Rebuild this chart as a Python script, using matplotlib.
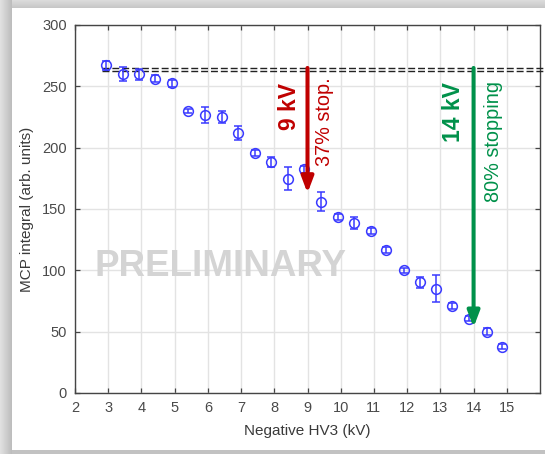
import numpy as np
import matplotlib
matplotlib.use("Agg")
import matplotlib.pyplot as plt
from matplotlib.patches import Rectangle

# Measured MCP integral vs. negative HV3 voltage
hv_kv = [2.92, 3.45, 3.92, 4.42, 4.93, 5.41, 5.92, 6.42, 6.91, 7.42, 7.90, 8.41, 8.88,
         9.42, 9.91, 10.39, 10.90, 11.37, 11.90, 12.39, 12.88, 13.36, 13.86, 14.39, 14.87]
mcp_integral = [267.0, 259.8, 259.8, 256.2, 252.4, 229.9, 226.3, 225.2, 212.0, 195.6, 188.3, 174.7, 182.3,
                156.0, 143.5, 138.6, 132.0, 116.6, 100.0, 90.2, 84.8, 70.9, 60.6, 50.0, 37.7]
mcp_err = [4.0, 5.6, 4.5, 3.0, 3.0, 2.0, 6.5, 5.0, 5.5, 2.5, 4.0, 9.4, 3.0,
           8.0, 2.5, 4.5, 2.5, 2.5, 2.0, 4.3, 11.0, 2.5, 2.0, 3.0, 2.0]

# Reference (unstopped) levels
ref_levels = [265.0, 262.2]
ref_start_kv = 2.8

# Stopping annotations: voltage, arrow tip value, label, sublabel, colour
stop_kv = [9, 14]
stop_tip = [163, 53.5]
stop_labels = ["9 kV", "14 kV"]
stop_sublabels = ["37% stop.", "80% stopping"]
stop_colors = ["#C00000", "#00914A"]

xticks = list(range(2, 16))
yticks = [0, 50, 100, 150, 200, 250, 300]

plt.rcParams["font.family"] = ["Liberation Sans", "DejaVu Sans"]

W, H = 545, 454
fig = plt.figure(figsize=(W / 100, H / 100), dpi=100)
fig.patch.set_facecolor("white")

# Soft grey frame around the pasted figure
for i, g in enumerate(np.linspace(0.88, 0.74, 12)):
    fig.patches.append(Rectangle((i / W, 0), 1 / W, 1, transform=fig.transFigure,
                                 facecolor=(g, g, g), edgecolor="none", zorder=0))
for i, g in enumerate(np.linspace(0.86, 0.78, 8)):
    fig.patches.append(Rectangle((12 / W, 1 - (i + 1) / H), 1, 1 / H, transform=fig.transFigure,
                                 facecolor=(g, g, g), edgecolor="none", zorder=0))
fig.patches.append(Rectangle((12 / W, 0), 1, 4 / H, transform=fig.transFigure,
                             facecolor=(0.76, 0.76, 0.76), edgecolor="none", zorder=0))

ax = fig.add_axes([75 / W, 61 / H, 465 / W, 368 / H])
ax.set_xlim(2, 16)
ax.set_ylim(0, 300)
ax.set_xticks(xticks)
ax.set_yticks(yticks)

ax.grid(True, color="#e3e3e3", linewidth=1.0, zorder=0)
ax.set_axisbelow(True)
for s in ax.spines.values():
    s.set_color("#454545")
    s.set_linewidth(1.0)
ax.tick_params(direction="in", length=3.5, width=0.9, color="#454545",
               top=True, right=True, labelsize=10.5, labelcolor="#4a4a4a")
ax.tick_params(axis="x", pad=6)
ax.tick_params(axis="y", pad=6)

ax.set_xlabel("Negative HV3 (kV)", fontsize=11, color="#3a3a3a", labelpad=6)
ax.set_ylabel("MCP integral (arb. units)", fontsize=11, color="#3a3a3a", labelpad=6)

# Watermark
ax.text(6.38, 103, "PRELIMINARY", fontsize=26.5, fontweight="bold", color="#d4d4d4",
        ha="center", va="center", zorder=1)

# Reference levels (dashed)
for lvl in ref_levels:
    ax.plot([ref_start_kv, 16.25], [lvl, lvl], color="#222222", linewidth=1.0,
            linestyle=(0, (5.0, 2.1)), clip_on=False, zorder=3)

# Data with error bars
ax.errorbar(hv_kv, mcp_integral, yerr=mcp_err, fmt="o", markersize=7,
            markerfacecolor="none", markeredgecolor="#3a3aff", markeredgewidth=1.1,
            ecolor="#3a3aff", elinewidth=1.1, capsize=3.2, capthick=1.1, zorder=4)

# Stopping arrows and labels
top_level = max(ref_levels)
label_dx = [-0.55, -0.6]
sub_dx = [0.52, 0.6]
label_y = [233.7, 229]
sub_y = [221, 205]
for kv, tip, lab, sub, col, ldx, sdx, ly, sy in zip(stop_kv, stop_tip, stop_labels, stop_sublabels,
                                                   stop_colors, label_dx, sub_dx, label_y, sub_y):
    ax.annotate("", xy=(kv, tip), xytext=(kv, top_level),
                arrowprops=dict(arrowstyle="-|>,head_width=0.36,head_length=0.95",
                                mutation_scale=10, lw=2.9, color=col,
                                shrinkA=0, shrinkB=0), zorder=5)
    ax.text(kv + ldx, ly, lab, rotation=90, ha="center", va="center",
            fontsize=16.5, fontweight="bold", color=col, zorder=5)
    ax.text(kv + sdx, sy, sub, rotation=90, ha="center", va="center",
            fontsize=14.3, color=col, zorder=5)

fig.savefig("out.png", dpi=100)
